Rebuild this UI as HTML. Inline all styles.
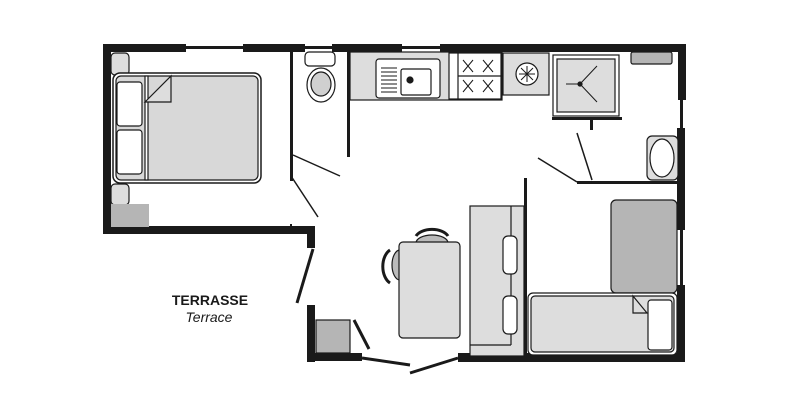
<!DOCTYPE html>
<html><head><meta charset="utf-8"><style>
html,body{margin:0;padding:0;background:#fff;}
svg{display:block}
</style></head><body>
<svg width="800" height="400" viewBox="0 0 800 400" xmlns="http://www.w3.org/2000/svg" font-family="Liberation Sans, sans-serif">
<g fill="#1a1a1a">
<rect x="103" y="44" width="83" height="8"/>
<rect x="243" y="44" width="62" height="8"/>
<rect x="332" y="44" width="70" height="8"/>
<rect x="440" y="44" width="245" height="8"/>
<rect x="186" y="46" width="57" height="3"/>
<rect x="305" y="46" width="27" height="3"/>
<rect x="402" y="46" width="38" height="3"/>
<rect x="103" y="44" width="8" height="190"/>
<rect x="103" y="226" width="212" height="8"/>
<rect x="307" y="226" width="8" height="22"/>
<rect x="678" y="44" width="8" height="56"/>
<rect x="680" y="100" width="3" height="30"/>
<rect x="677" y="128" width="8" height="102"/>
<rect x="680" y="230" width="3" height="55"/>
<rect x="677" y="285" width="8" height="77"/>
<rect x="458" y="353" width="227" height="9"/>
<rect x="307" y="305" width="8" height="57"/>
<rect x="307" y="353" width="55" height="8"/>
<rect x="290" y="51" width="3" height="130"/>
<rect x="347" y="51" width="3" height="106"/>
<rect x="524" y="178" width="3" height="184"/>
<rect x="577" y="181" width="101" height="3"/>
<rect x="552" y="117" width="70" height="3"/>
<rect x="590" y="118" width="3" height="12"/>
<rect x="290" y="224" width="2" height="4"/>
</g>
<g stroke="#1a1a1a" fill="none">
<line x1="293" y1="155" x2="340" y2="176" stroke-width="1.5"/>
<line x1="291" y1="176" x2="318" y2="217" stroke-width="1.5"/>
<line x1="577" y1="182" x2="538" y2="158" stroke-width="1.5"/>
<line x1="592" y1="180" x2="577" y2="133" stroke-width="1.5"/>
<line x1="313" y1="249" x2="297" y2="303" stroke-width="3"/>
<line x1="362" y1="358" x2="410" y2="365" stroke-width="3"/>
<line x1="410" y1="373" x2="458" y2="358" stroke-width="3"/>
</g>
<g stroke="#1a1a1a" stroke-width="1.2">
<rect x="111" y="53" width="18" height="22" rx="4" fill="#ddd"/>
<rect x="111" y="184" width="18" height="21" rx="4" fill="#ddd"/>
<rect x="111" y="204" width="38" height="23" fill="#b5b5b5" stroke="none"/>
<rect x="113" y="73" width="148" height="110" rx="7" fill="#fff" stroke-width="1.5"/>
<rect x="116" y="76" width="142" height="104" rx="5" fill="#d8d8d8"/>
<rect x="145" y="76" width="3" height="104" fill="#fff"/>
<polygon points="145,102 171,76 171,102" fill="#ddd"/>
<rect x="117" y="82" width="25" height="44" rx="3" fill="#fff"/>
<rect x="117" y="130" width="25" height="44" rx="3" fill="#fff"/>
<rect x="305" y="52" width="30" height="14" rx="4" fill="#fff"/>
<ellipse cx="321" cy="85" rx="14" ry="17" fill="#fff"/>
<ellipse cx="321" cy="84" rx="10" ry="12" fill="#d0d0d0"/>
<rect x="350" y="52" width="152" height="48" fill="#ddd"/>
<rect x="376" y="59" width="64" height="39" rx="3" fill="#fff"/>
<rect x="401" y="69" width="30" height="26" rx="2" fill="#fff"/>
<path d="M381,68h16M381,72h16M381,76h16M381,80h16M381,84h16M381,88h16M381,92h16" stroke-width="1"/>
<circle cx="410" cy="80" r="3" fill="#1a1a1a"/>
<rect x="449" y="53" width="52" height="46" fill="#fff"/>
<line x1="458" y1="53" x2="458" y2="99"/>
<line x1="458" y1="76" x2="501" y2="76"/>
<path d="M463,60l10,12M473,60l-10,12M483,60l10,12M493,60l-10,12M463,80l10,12M473,80l-10,12M483,80l10,12M493,80l-10,12" stroke-width="1"/>
<rect x="503" y="53" width="46" height="42" fill="#ddd"/>
<circle cx="527" cy="74" r="11" fill="#fff"/>
<path d="M527,66v16M519,74h16M521,68l12,12M533,68l-12,12" stroke-width="1"/>
<rect x="553" y="55" width="66" height="61" fill="#fff"/>
<rect x="557" y="59" width="58" height="53" fill="#ddd"/>
<path d="M580,84l17,-18M580,84l17,18M580,84h-14" stroke-width="1"/>
<circle cx="580" cy="84" r="2" fill="#1a1a1a"/>
<rect x="631" y="52" width="41" height="12" rx="2" fill="#b5b5b5"/>
<rect x="647" y="136" width="31" height="44" rx="5" fill="#ddd"/>
<ellipse cx="662" cy="158" rx="12" ry="19" fill="#fff"/>
<rect x="470" y="206" width="54" height="150" fill="#ddd"/>
<line x1="511" y1="206" x2="511" y2="345"/>
<line x1="470" y1="345" x2="511" y2="345"/>
<rect x="503" y="236" width="14" height="38" rx="5" fill="#fff"/>
<rect x="503" y="296" width="14" height="38" rx="5" fill="#fff"/>
<ellipse cx="432" cy="243" rx="16" ry="8" fill="#bbb"/>
<path d="M416,236 A17,10 0 0 1 448,236" fill="none" stroke-width="3"/>
<ellipse cx="400" cy="265" rx="8" ry="15" fill="#bbb"/>
<path d="M390,250 A12,18 0 0 0 390,283" fill="none" stroke-width="3"/>
<rect x="399" y="242" width="61" height="96" rx="4" fill="#ddd"/>
<rect x="611" y="200" width="66" height="93" rx="5" fill="#b5b5b5"/>
<rect x="528" y="293" width="149" height="62" rx="5" fill="#fff"/>
<rect x="531" y="296" width="143" height="56" rx="4" fill="#ddd"/>
<rect x="648" y="300" width="24" height="50" rx="3" fill="#fff"/>
<polygon points="633,296 647,313 633,313" fill="#ddd"/>
<rect x="316" y="320" width="34" height="33" fill="#b5b5b5"/>
<line x1="354" y1="320" x2="369" y2="349" stroke-width="3"/>
</g>
<text x="210" y="305" font-size="14" font-weight="bold" text-anchor="middle" fill="#1a1a1a">TERRASSE</text>
<text x="209" y="322" font-size="14" font-style="italic" text-anchor="middle" fill="#1a1a1a">Terrace</text>
</svg>
</body></html>
